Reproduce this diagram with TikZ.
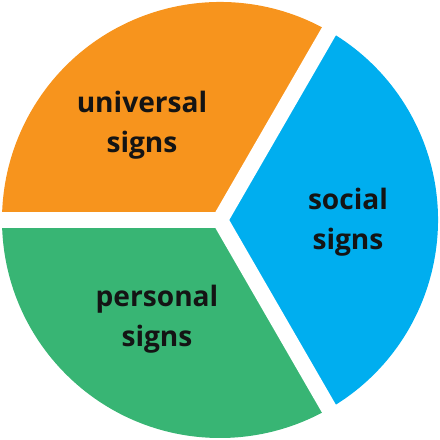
\documentclass[tikz,border=0pt]{standalone}
\usepackage{fontspec}
\setsansfont{Open Sans}
\usetikzlibrary{positioning}
\definecolor{cUniversal}{RGB}{247, 148, 29}
\definecolor{cSocial}{RGB}{0, 174, 239}
\definecolor{cPersonal}{RGB}{56, 181, 116}
\definecolor{tDark}{RGB}{20, 20, 20}

\begin{document}
\begin{tikzpicture}[
    slice/.style={fill=#1},
    gap/.style={draw=white, line width=0.4cm},
    lbl/.style={
        font=\sffamily\bfseries\fontsize{20}{28.5}\selectfont,
        text=tDark,
        align=center,
        inner sep=0pt
    }
]

\useasboundingbox (0,0) rectangle (11,11);
\coordinate (c) at (5.5, 5.5);

% Slices
\fill[slice=cUniversal] (c) -- ++(60:5.45) arc[start angle=60, end angle=180, radius=5.45] -- cycle;
\fill[slice=cSocial] (c) -- ++(-60:5.45) arc[start angle=-60, end angle=60, radius=5.45] -- cycle;
\fill[slice=cPersonal] (c) -- ++(180:5.45) arc[start angle=180, end angle=300, radius=5.45] -- cycle;

% Gaps between slices
\draw[gap] (c) -- ++(60:5.8);
\draw[gap] (c) -- ++(180:5.8);
\draw[gap] (c) -- ++(300:5.8);

% Labels
\node[lbl] (universal) at (3.55, 7.875) {universal\\signs};
\node[lbl] (social) at (8.7, 5.45) {social\\signs};
\node[lbl] (personal) at (3.925, 3.025) {personal\\signs};

\end{tikzpicture}
\end{document}
